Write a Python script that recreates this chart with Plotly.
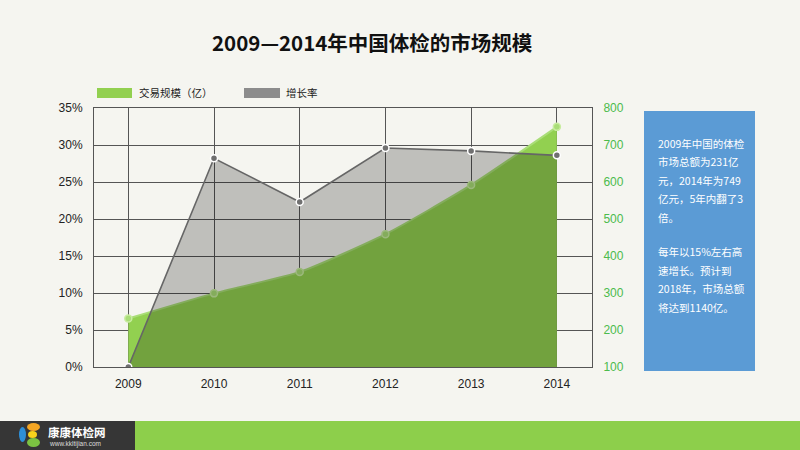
import plotly.graph_objects as go

years = ["2009", "2010", "2011", "2012", "2013", "2014"]
scale = [231, 299, 357, 459, 592, 749]          # 交易规模（亿）, right axis
growth = [0.0, 0.282, 0.223, 0.296, 0.292, 0.286]  # 增长率, left axis
left_ticks = [0, 0.05, 0.10, 0.15, 0.20, 0.25, 0.30, 0.35]
right_ticks = [100, 200, 300, 400, 500, 600, 700, 800]

info_lines = ["2009年中国的体检", "市场总额为231亿", "元，2014年为749", "亿元，5年内翻了3", "倍。",
              "每年以15%左右高", "速增长。预计到", "2018年，市场总额", "将达到1140亿。"]
info_y = [143, 161.5, 180, 198.5, 217, 251.5, 270, 288.5, 307]

BG = "#f5f5f0"
L, R, T, B = 94, 592, 108, 367

def px(x):
    return (x - L) / (R - L)

def py(y):
    return (B - y) / (B - T)

xs = list(range(len(years)))

fig = go.Figure()
fig.add_trace(go.Scatter(
    x=xs, y=scale, yaxis="y", fill="tozeroy", fillcolor="rgb(146,208,80)",
    line=dict(color="#a9dd77", width=2, shape="spline", smoothing=0.6),
    mode="lines+markers",
    marker=dict(size=7, color="#a9dd77", line=dict(color="#c8ec9f", width=1.5)),
    hoverinfo="skip", showlegend=False))
fig.add_trace(go.Scatter(
    x=xs, y=growth, yaxis="y2", fill="tozeroy", fillcolor="rgba(0,0,0,0.22)",
    line=dict(color="#666666", width=1.6),
    mode="lines+markers",
    marker=dict(size=7, color="#707070", line=dict(color="#ffffff", width=1.5)),
    hoverinfo="skip", showlegend=False))

shapes = []
ann = []
# legend swatches
shapes.append(dict(type="rect", xref="paper", yref="paper", x0=px(97), x1=px(132), y0=py(98), y1=py(88),
                   fillcolor="#92d050", line=dict(width=0)))
shapes.append(dict(type="rect", xref="paper", yref="paper", x0=px(244), x1=px(280), y0=py(98), y1=py(88),
                   fillcolor="#8c8c8c", line=dict(width=0)))
ann.append(dict(text="交易规模（亿）", xref="paper", yref="paper", x=px(137), y=py(93), xanchor="left",
                yanchor="middle", showarrow=False, font=dict(size=10.5, color="#222", family="Noto Sans CJK SC")))
ann.append(dict(text="增长率", xref="paper", yref="paper", x=px(284), y=py(93), xanchor="left",
                yanchor="middle", showarrow=False, font=dict(size=10.5, color="#222", family="Noto Sans CJK SC")))
# info box
shapes.append(dict(type="rect", xref="paper", yref="paper", x0=px(644), x1=px(755), y0=py(371), y1=py(111),
                   fillcolor="#5b9bd5", line=dict(width=0)))
for t, yy in zip(info_lines, info_y):
    ann.append(dict(text=t, xref="paper", yref="paper", x=px(656), y=py(yy), xanchor="left", yanchor="middle",
                    showarrow=False, font=dict(size=10.5, color="#ffffff", family="Noto Sans CJK SC")))
# footer
shapes.append(dict(type="rect", xref="paper", yref="paper", x0=px(0), x1=px(135), y0=py(451), y1=py(421),
                   fillcolor="#363636", line=dict(width=0), layer="above"))
shapes.append(dict(type="rect", xref="paper", yref="paper", x0=px(135), x1=px(801), y0=py(451), y1=py(421),
                   fillcolor="#8dcf4b", line=dict(width=0), layer="above"))
# logo leaves
for (x0, x1, y0, y1, c) in [(19, 26, 427, 442, "#2e8fd8"), (27, 40, 423, 431, "#f5a623"),
                            (27, 40, 438, 447, "#7cc242"), (28, 37, 431, 438, "#f7d21c")]:
    shapes.append(dict(type="circle", xref="paper", yref="paper", x0=px(x0), x1=px(x1), y0=py(y1), y1=py(y0),
                       fillcolor=c, line=dict(width=0), layer="above"))
ann.append(dict(text="<b>康康体检网</b>", xref="paper", yref="paper", x=px(46), y=py(432), xanchor="left",
                yanchor="middle", showarrow=False, font=dict(size=11.5, color="#ffffff", family="Noto Sans CJK SC")))
ann.append(dict(text="www.kkltijian.com", xref="paper", yref="paper", x=px(47), y=py(444), xanchor="left",
                yanchor="middle", showarrow=False, font=dict(size=6.5, color="#dddddd", family="Liberation Sans")))
# title
ann.append(dict(text="<b>2009—2014年中国体检的市场规模</b>", xref="paper", yref="paper", x=px(372), y=py(42),
                xanchor="center", yanchor="middle", showarrow=False,
                font=dict(size=20.5, color="#111111", family="Noto Sans CJK SC")))

grid = "#555555"
fig.update_layout(
    width=800, height=450, margin=dict(l=L, r=800 - R, t=T, b=450 - B),
    paper_bgcolor=BG, plot_bgcolor=BG,
    font=dict(family="Liberation Sans, Arial", size=12, color="#222"),
    xaxis=dict(range=[-0.4, 5.41], tickvals=xs, ticktext=years, showgrid=True, gridcolor=grid, gridwidth=1,
               zeroline=False, showline=True, linecolor=grid, mirror=True, ticks="",
               ticklabelstandoff=6, tickfont=dict(size=12, color="#222")),
    yaxis=dict(range=[100, 800], tickvals=right_ticks, side="right", showgrid=True, gridcolor=grid,
               gridwidth=1, zeroline=False, showline=True, linecolor=grid, ticks="",
               ticklabelstandoff=8, tickfont=dict(size=12, color="#4cbb4c")),
    yaxis2=dict(range=[0, 0.35], tickvals=left_ticks, tickformat=".0%", overlaying="y", side="left",
                showgrid=False, zeroline=False, showline=True, linecolor=grid, ticks="",
                ticklabelstandoff=8, tickfont=dict(size=12, color="#222")),
    shapes=shapes, annotations=ann, showlegend=False,
)

fig.write_html("out.html")
